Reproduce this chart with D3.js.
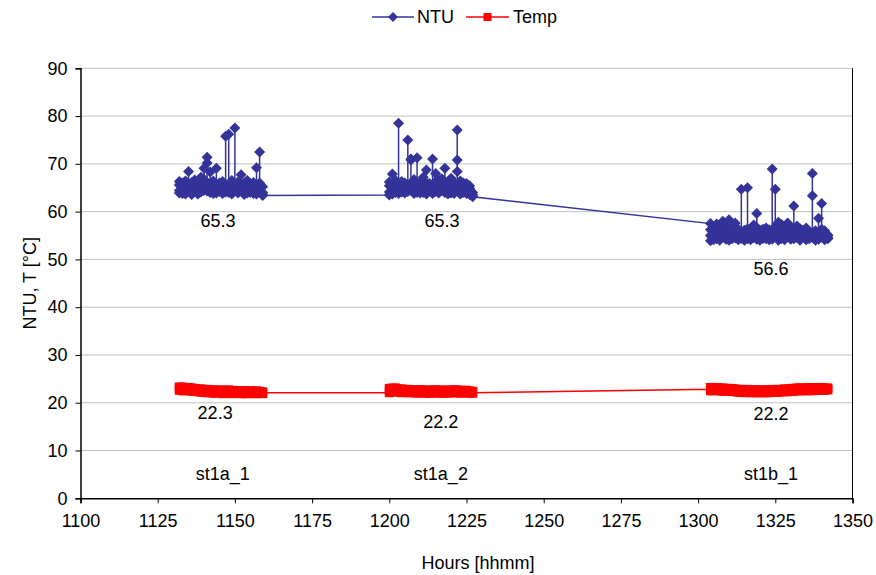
<!DOCTYPE html>
<html><head><meta charset="utf-8">
<script src="https://cdn.jsdelivr.net/npm/d3@7"></script>
<style>html,body{margin:0;padding:0;background:#fff;}svg{display:block;font-family:Arial,"Liberation Sans",sans-serif;}</style>
</head><body>
<svg id="chart" width="876" height="575"></svg>
<script>
// ---------- data ----------
const xTickValues = [1100,1125,1150,1175,1200,1225,1250,1275,1300,1325,1350];
const yTickValues = [0,10,20,30,40,50,60,70,80,90];

const minutesSt1a1 = [1132,1133,1134,1135,1136,1137,1138,1139,1140,1141,1142,1143,1144,1145,1146,1147,1148,1149,1150,1151,1152,1153,1154,1155,1156,1157,1158,1159];
const minutesSt1a2 = [1200,1201,1202,1203,1204,1205,1206,1207,1208,1209,1210,1211,1212,1213,1214,1215,1216,1217,1218,1219,1220,1221,1222,1223,1224,1225,1226,1227];
const minutesSt1b1 = [1304,1305,1306,1307,1308,1309,1310,1311,1312,1313,1314,1315,1316,1317,1318,1319,1320,1321,1322,1323,1324,1325,1326,1327,1328,1329,1330,1331,1332,1333,1334,1335,1336,1337,1338,1339,1340,1341,1342];

const ntuSt1a1 = [
 [63.9,65.6,64.4,66.3],[65.2,63.8,66.0,64.6],[64.1,66.4,65.0,63.7],[65.5,68.4,64.3,65.9],
 [64.0,66.1,63.6,65.3],[65.8,64.2,66.6,64.9],[63.7,65.4,64.6,66.2],[65.0,67.2,64.1,65.7],
 [64.4,69.1,66.8,65.2],[65.6,71.4,70.2,64.3],[64.0,68.3,65.9,64.8],[65.3,63.8,66.4,64.5],
 [64.7,69.1,65.1,63.9],[65.9,64.2,66.0,64.6],[63.8,65.5,64.9,66.3],[64.6,75.8,65.2,64.1],
 [65.4,76.2,64.0,65.8],[64.2,66.5,63.7,65.1],[65.0,77.5,64.5,65.6],[63.9,66.2,64.8,65.3],
 [65.7,67.7,64.3,64.9],[64.1,65.8,63.6,66.0],[65.2,64.4,66.5,63.9],[64.6,65.9,64.0,65.4],
 [63.8,66.1,64.9,65.0],[64.5,69.2,65.3,63.7],[65.1,72.5,64.2,66.0],[64.0,65.2,63.6,63.4]
];
const ntuSt1a2 = [
 [63.5,65.4,64.1,66.2],[64.8,67.9,63.7,65.6],[65.9,64.3,66.5,64.0],[64.5,78.5,65.2,63.8],
 [65.7,64.1,66.3,64.9],[63.9,65.8,64.6,66.0],[65.1,75.0,64.2,65.5],[64.4,71.0,70.8,65.9],
 [65.6,63.8,66.7,64.3],[64.0,71.3,65.1,64.7],[66.1,64.5,65.3,63.9],[64.8,67.2,64.0,65.7],
 [65.2,68.7,63.7,66.0],[64.3,65.9,64.9,65.4],[63.8,71.0,65.6,64.6],[65.5,68.0,64.2,66.3],
 [64.1,66.6,65.0,63.9],[65.8,64.4,66.9,64.7],[64.6,69.1,65.3,64.0],[65.0,63.7,66.2,64.8],
 [63.9,65.7,64.3,67.0],[64.7,66.1,63.8,65.2],[65.3,70.8,77.1,68.4,64.5],[64.2,66.4,65.0,63.7],
 [65.6,64.0,66.0,64.4],[63.8,65.1,64.6,65.9],[64.9,63.6,65.4,64.1],[64.0,63.5,63.1]
];
const ntuSt1b1 = [
 [57.5,55.0,53.9,56.2],[54.6,56.8,55.3,54.1],[55.9,54.3,57.4,55.0],[54.8,56.5,54.0,55.6],
 [56.2,58.0,54.7,55.3],[54.2,55.8,57.1,54.9],[55.5,54.0,58.3,56.0],[54.7,56.6,55.1,54.3],
 [56.0,54.5,57.6,55.4],[54.1,55.7,54.8,56.3],[55.2,64.7,54.4,55.9],[54.6,56.1,55.0,54.0],
 [55.8,65.0,54.3,56.4],[54.9,55.5,54.1,56.0],[55.4,57.2,54.6,55.1],[54.2,59.6,56.7,55.3],
 [56.1,54.5,55.6,54.0],[55.0,56.3,54.4,55.8],[54.3,55.9,55.2,56.6],[55.7,54.1,56.2,54.8],
 [54.6,68.9,55.5,54.2],[55.3,64.7,56.9,54.7],[54.0,57.8,55.4,56.1],[55.9,54.4,57.3,55.0],
 [54.5,56.0,54.1,55.6],[55.6,57.6,54.8,56.3],[54.2,55.4,56.8,54.9],[55.1,61.2,55.7,54.3],
 [56.0,54.6,57.0,55.2],[54.4,55.9,54.0,56.4],[55.5,54.7,56.1,55.0],[54.1,56.6,55.3,54.6],
 [55.8,54.3,55.9,54.9],[54.6,63.3,68.0,55.4],[55.2,54.0,56.0,54.5],[54.8,58.6,55.6,54.2],
 [55.4,61.7,56.3,54.7],[54.1,55.5,54.9,56.0],[55.0,54.3,54.6,55.1]
];

const tempSt1a1 = [
 [23.2,22.6,23.3],[22.7,23.3,22.5],[23.1,22.5,23.2],[22.6,23.2,22.8],[23.0,22.4,23.1],
 [22.5,23.0,22.4],[22.9,22.3,22.8],[22.4,22.9,22.2],[22.8,22.2,22.7],[22.3,22.8,22.1],
 [22.7,22.1,22.6],[22.2,22.7,22.0],[22.6,22.0,22.5],[22.1,22.7,22.2],[22.5,21.9,22.6],
 [22.0,22.6,22.1],[22.7,22.1,22.5],[22.2,21.9,22.6],[22.0,22.5,22.1],[22.5,22.0,22.4],
 [21.9,22.5,22.1],[22.4,21.9,22.5],[22.0,22.4,21.9],[22.5,22.0,22.4],[21.9,22.4,22.0],
 [22.3,21.9,22.5],[22.4,22.0,22.3],[21.9,22.3,22.1]
];
const tempSt1a2 = [
 [22.1,23.0,22.6],[23.1,22.4,22.9],[22.5,23.1,22.3],[22.9,22.2,22.8],[22.3,22.9,22.1],
 [22.8,22.2,22.7],[22.2,22.8,22.1],[22.7,22.1,22.6],[22.1,22.7,22.2],[22.6,22.0,22.7],
 [22.2,22.7,22.1],[22.7,22.1,22.6],[22.1,22.6,22.0],[22.6,22.0,22.5],[22.1,22.7,22.2],
 [22.7,22.1,22.5],[22.0,22.6,22.2],[22.5,22.0,22.7],[22.1,22.6,22.1],[22.6,22.0,22.5],
 [22.1,22.7,22.2],[22.7,22.1,22.6],[22.2,22.7,22.1],[22.6,22.0,22.5],[22.1,22.6,22.2],
 [22.6,22.1,22.5],[22.1,22.5,22.0],[22.4,22.0,22.1]
];
const tempSt1b1 = [
 [22.8,23.2,22.5],[23.1,22.5,23.2],[22.6,23.2,22.8],[23.1,22.5,23.0],[22.6,23.1,22.4],
 [23.0,22.4,22.9],[22.5,23.0,22.6],[22.9,22.4,23.0],[22.4,22.9,22.3],[22.8,22.2,22.7],
 [22.3,22.8,22.2],[22.7,22.1,22.6],[22.2,22.8,22.3],[22.7,22.1,22.6],[22.2,22.7,22.1],
 [22.6,22.1,22.7],[22.1,22.6,22.2],[22.7,22.1,22.5],[22.2,22.7,22.1],[22.6,22.1,22.7],
 [22.2,22.8,22.3],[22.7,22.2,22.6],[22.3,22.8,22.2],[22.8,22.3,22.7],[22.4,22.9,22.3],
 [22.8,22.3,22.9],[22.4,23.0,22.5],[22.9,22.4,23.0],[22.5,23.1,22.6],[23.0,22.5,23.1],
 [22.6,23.1,22.5],[23.0,22.5,23.1],[22.6,23.2,22.7],[23.1,22.5,23.0],[22.6,23.1,22.7],
 [23.1,22.6,23.2],[22.7,23.2,22.6],[23.1,22.6,23.0],[22.7,23.1,22.8]
];

const seriesNames = ["NTU","Temp"];
const valueLabels = ["65.3","65.3","56.6","22.3","22.2","22.2"];
const valueLabelAt = [[1144.5,58.0],[1217.1,58.0],[1323.6,48.0],[1143.6,17.9],[1216.7,16.0],[1323.6,17.7]];
const stationLabels = ["st1a_1","st1a_2","st1b_1"];
const stationLabelAt = [[1146.1,5.1],[1216.7,5.1],[1323.6,5.1]];

// ---------- build ----------
function flatten(minuteLists, valueLists){
  const pts = [];
  minuteLists.forEach((mins, c) => {
    mins.forEach((m, i) => valueLists[c][i].forEach(v => pts.push({x:m, y:v})));
  });
  return pts;
}
const ntuPts = flatten([minutesSt1a1,minutesSt1a2,minutesSt1b1],[ntuSt1a1,ntuSt1a2,ntuSt1b1]);
const tempPts = flatten([minutesSt1a1,minutesSt1a2,minutesSt1b1],[tempSt1a1,tempSt1a2,tempSt1b1]);

const svg = d3.select("#chart");
const L = 80.5, R = 852.5, T = 68.3, B = 498.3;
const x = d3.scaleLinear().domain([1100,1350]).range([L,R]);
const y = d3.scaleLinear().domain([0,90]).range([B,T]);
const NTU_C = "#333399", TEMP_C = "#ff0000";
const FS = 18;
const FF = "Arial, 'Liberation Sans', sans-serif";

// gridlines
svg.append("g").selectAll("line").data(yTickValues.filter(v=>v>0)).join("line")
  .attr("x1",L).attr("x2",R).attr("y1",d=>y(d)).attr("y2",d=>y(d))
  .attr("stroke","#c0c0c0").attr("stroke-width",1);
// right border
svg.append("line").attr("x1",R).attr("x2",R).attr("y1",T).attr("y2",B).attr("stroke","#000").attr("stroke-width",1);

// axes
const yAxis = d3.axisLeft(y).tickValues(yTickValues).tickSize(5).tickPadding(8).tickFormat(d3.format("d"));
const gy = svg.append("g").attr("transform",`translate(${L},0)`).call(yAxis);
const xAxis = d3.axisBottom(x).tickValues(xTickValues).tickSize(5).tickPadding(11).tickFormat(d3.format("d"));
const gx = svg.append("g").attr("transform",`translate(0,${B})`).call(xAxis);
[gx,gy].forEach(g=>{
  g.select(".domain").attr("stroke","#000").attr("stroke-width",1.5);
  g.selectAll(".tick line").attr("stroke","#000");
  g.selectAll("text").attr("font-size",FS).attr("font-family",FF).attr("fill","#000");
});

// axis titles
svg.append("text").attr("x",478).attr("y",563).attr("text-anchor","middle").attr("dominant-baseline","central").attr("font-size",FS).attr("font-family",FF).text("Hours [hhmm]");
svg.append("text").attr("transform",`translate(30,${(T+B)/2}) rotate(-90)`).attr("text-anchor","middle").attr("dominant-baseline","central").attr("font-size",FS).attr("font-family",FF).text("NTU, T [°C]");

const line = d3.line().x(d=>x(d.x)).y(d=>y(d.y));
const diamond = "M0,-5.5L5.5,0L0,5.5L-5.5,0Z";
const square = "M-4.5,-4.5H4.5V4.5H-4.5Z";

// NTU
svg.append("path").datum(ntuPts).attr("d",line).attr("fill","none").attr("stroke",NTU_C).attr("stroke-width",1.5);
svg.append("g").selectAll("path").data(ntuPts).join("path")
  .attr("transform",d=>`translate(${x(d.x)},${y(d.y)})`).attr("d",diamond).attr("fill",NTU_C);
// Temp
svg.append("path").datum(tempPts).attr("d",line).attr("fill","none").attr("stroke",TEMP_C).attr("stroke-width",1.5);
svg.append("g").selectAll("path").data(tempPts).join("path")
  .attr("transform",d=>`translate(${x(d.x)},${y(d.y)})`).attr("d",square).attr("fill",TEMP_C);

// labels
svg.append("g").selectAll("text").data(valueLabels).join("text")
  .attr("x",(d,i)=>x(valueLabelAt[i][0])).attr("y",(d,i)=>y(valueLabelAt[i][1]))
  .attr("text-anchor","middle").attr("dominant-baseline","central").attr("font-size",FS).attr("font-family",FF).text(d=>d);
svg.append("g").selectAll("text").data(stationLabels).join("text")
  .attr("x",(d,i)=>x(stationLabelAt[i][0])).attr("y",(d,i)=>y(stationLabelAt[i][1]))
  .attr("text-anchor","middle").attr("dominant-baseline","central").attr("font-size",FS).attr("font-family",FF).text(d=>d);

// legend
const leg = svg.append("g");
const legItems = [{name:seriesNames[0],c:NTU_C,sym:"M0,-5L5,0L0,5L-5,0Z",x0:372,x1:414,tx:417},{name:seriesNames[1],c:TEMP_C,sym:"M-4,-4H4V4H-4Z",x0:466,x1:509,tx:513}];
legItems.forEach(it=>{
  leg.append("line").attr("x1",it.x0).attr("x2",it.x1).attr("y1",17).attr("y2",17).attr("stroke",it.c).attr("stroke-width",1.5);
  leg.append("path").attr("transform",`translate(${(it.x0+it.x1)/2},17)`).attr("d",it.sym).attr("fill",it.c);
  leg.append("text").attr("x",it.tx).attr("y",17).attr("dominant-baseline","central").attr("font-size",FS).attr("font-family",FF).text(it.name);
});
</script>
</body></html>
